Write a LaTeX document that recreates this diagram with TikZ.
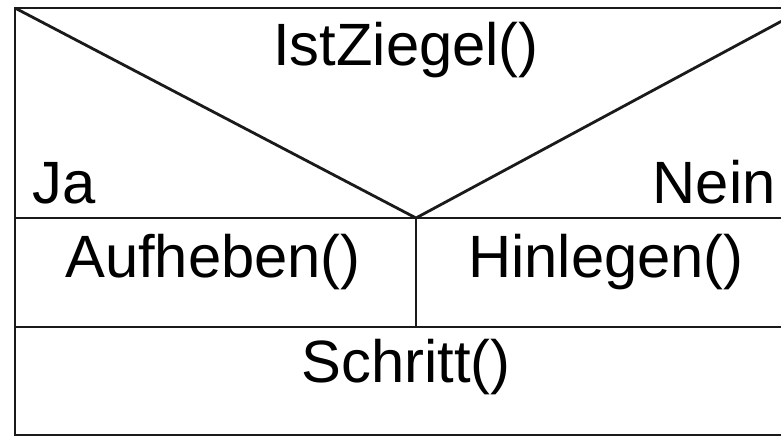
\documentclass[tikz,border=0pt]{standalone}
\usepackage{fontspec}
\setmainfont{Liberation Sans}
\usepackage{xcolor}
\definecolor{NSLine}{HTML}{1A1A1A}

\tikzset{
  nslabel/.style={inner sep=0pt,font=\fontsize{34}{40}\selectfont},
  nsline/.style={NSLine,line width=1.6pt}
}

\begin{document}
\begin{tikzpicture}[x=0.02cm,y=-0.02cm]
\path[use as bounding box] (0,0) rectangle (781,436);
\clip (0,0) rectangle (781,436);
\coordinate (tl) at (15,8);
\coordinate (tr) at (806,8);
\coordinate (tip) at (416,218);
\coordinate (ml) at (15,218);
\coordinate (mr) at (806,218);
\coordinate (bl) at (15,327);
\coordinate (br) at (806,327);
\coordinate (split) at (416,327);
\draw[nsline] (15,435) rectangle (806,8);
\draw[nsline] (tl) -- (tip) -- (tr);
\draw[nsline] (ml) -- (mr);
\draw[nsline] (bl) -- (br);
\draw[nsline] (tip) -- (split);
\node[nslabel,anchor=base] (cond) at (406,65) {IstZiegel()};
\node[nslabel,anchor=base west] (yes) at (32,203) {Ja};
\node[nslabel,anchor=base east] (no) at (776,203) {Nein};
\node[nslabel,anchor=base] (pick) at (213,277) {Aufheben()};
\node[nslabel,anchor=base] (drop) at (606,277) {Hinlegen()};
\node[nslabel,anchor=base] (step) at (406,382) {Schritt()};
\end{tikzpicture}
\end{document}
